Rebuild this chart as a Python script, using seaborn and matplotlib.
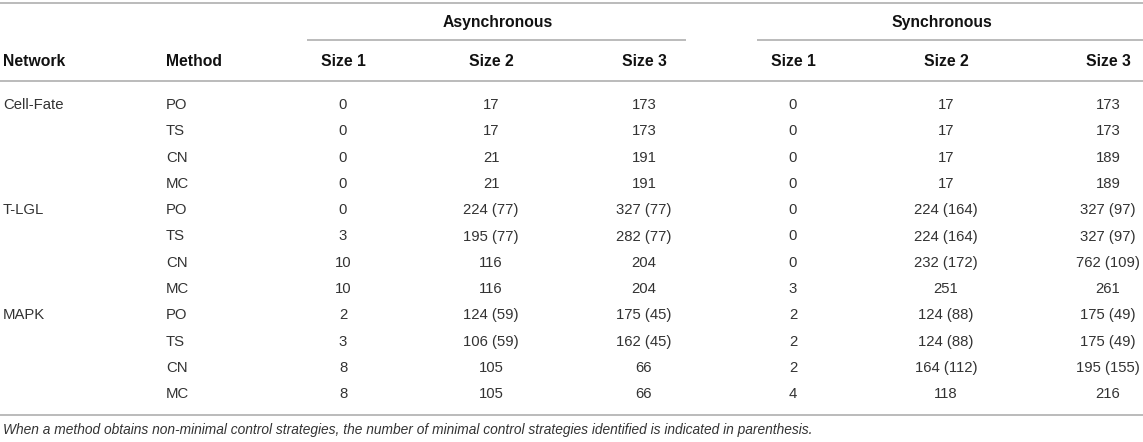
import matplotlib
matplotlib.use("Agg")
import matplotlib.pyplot as plt
import seaborn as sns
import pandas as pd

# Table content
networks = ["Cell-Fate", "T-LGL", "MAPK"]
methods = ["PO", "TS", "CN", "MC"]
modes = ["Asynchronous", "Synchronous"]
sizes = ["Size 1", "Size 2", "Size 3"]

async_size1 = [0, 0, 0, 0, 0, 3, 10, 10, 2, 3, 8, 8]
async_size2 = [17, 17, 21, 21, 224, 195, 116, 116, 124, 106, 105, 105]
async_size2_min = [None, None, None, None, 77, 77, None, None, 59, 59, None, None]
async_size3 = [173, 173, 191, 191, 327, 282, 204, 204, 175, 162, 66, 66]
async_size3_min = [None, None, None, None, 77, 77, None, None, 45, 45, None, None]

sync_size1 = [0, 0, 0, 0, 0, 0, 0, 3, 2, 2, 2, 4]
sync_size2 = [17, 17, 17, 17, 224, 224, 232, 251, 124, 124, 164, 118]
sync_size2_min = [None, None, None, None, 164, 164, 172, None, 88, 88, 112, None]
sync_size3 = [173, 173, 189, 189, 327, 327, 762, 261, 175, 175, 195, 216]
sync_size3_min = [None, None, None, None, 97, 97, 109, None, 49, 49, 155, None]

footnote = ("When a method obtains non-minimal control strategies, the number of "
            "minimal control strategies identified is indicated in parenthesis.")


def fmt(vals, mins=None):
    if mins is None:
        mins = [None] * len(vals)
    return [f"{v}" if m is None else f"{v} ({m})" for v, m in zip(vals, mins)]


df = pd.DataFrame({
    "Network": [n if i == 0 else "" for n in networks for i in range(len(methods))],
    "Method": methods * len(networks),
    "a1": fmt(async_size1),
    "a2": fmt(async_size2, async_size2_min),
    "a3": fmt(async_size3, async_size3_min),
    "s1": fmt(sync_size1),
    "s2": fmt(sync_size2, sync_size2_min),
    "s3": fmt(sync_size3, sync_size3_min),
})

sns.set_theme(style="white")
plt.rcParams["font.family"] = ["Liberation Sans", "DejaVu Sans"]

W, H = 1143, 442
fig = plt.figure(figsize=(W / 100, H / 100), dpi=100)
ax = fig.add_axes([0, 0, 1, 1])
ax.set_xlim(0, W)
ax.set_ylim(H, 0)
ax.axis("off")

# layout (pixels)
rule_color = "#b5b5b5"
head_color = "#111111"
body_color = "#333333"
head_fs = 11.3
body_fs = 10.7
num_cols = ["a1", "a2", "a3", "s1", "s2", "s3"]
col_x = [343, 491, 644, 793, 946, 1108]
left_x = {"Network": 3, "Method": 166}
row_y0, row_dy = 105, 26.3

# rules
ax.hlines([3, 81, 415], 0, W, color=rule_color, lw=1.3)
ax.hlines(40, 307, 686, color=rule_color, lw=1.3)
ax.hlines(40, 757, W, color=rule_color, lw=1.3)

# spanning headers
for label, cx in zip(modes, [498, 942]):
    ax.text(cx, 23, label, ha="center", va="center", fontsize=head_fs,
            fontweight="bold", color=head_color)

# column headers
for name, x in left_x.items():
    ax.text(x, 61, name, ha="left", va="center", fontsize=head_fs,
            fontweight="bold", color=head_color)
for lab, x in zip(sizes * 2, col_x):
    ax.text(x, 61, lab, ha="center", va="center", fontsize=head_fs,
            fontweight="bold", color=head_color)

# body
for i, row in df.iterrows():
    y = row_y0 + i * row_dy
    for name, x in left_x.items():
        ax.text(x, y, row[name], ha="left", va="center", fontsize=body_fs,
                color=body_color)
    for c, x in zip(num_cols, col_x):
        ax.text(x, y, row[c], ha="center", va="center", fontsize=body_fs,
                color=body_color)

ax.text(3, 430, footnote, ha="left", va="center", fontsize=9.9,
        style="italic", color=body_color)

fig.savefig("out.png", dpi=100)
plt.close(fig)
